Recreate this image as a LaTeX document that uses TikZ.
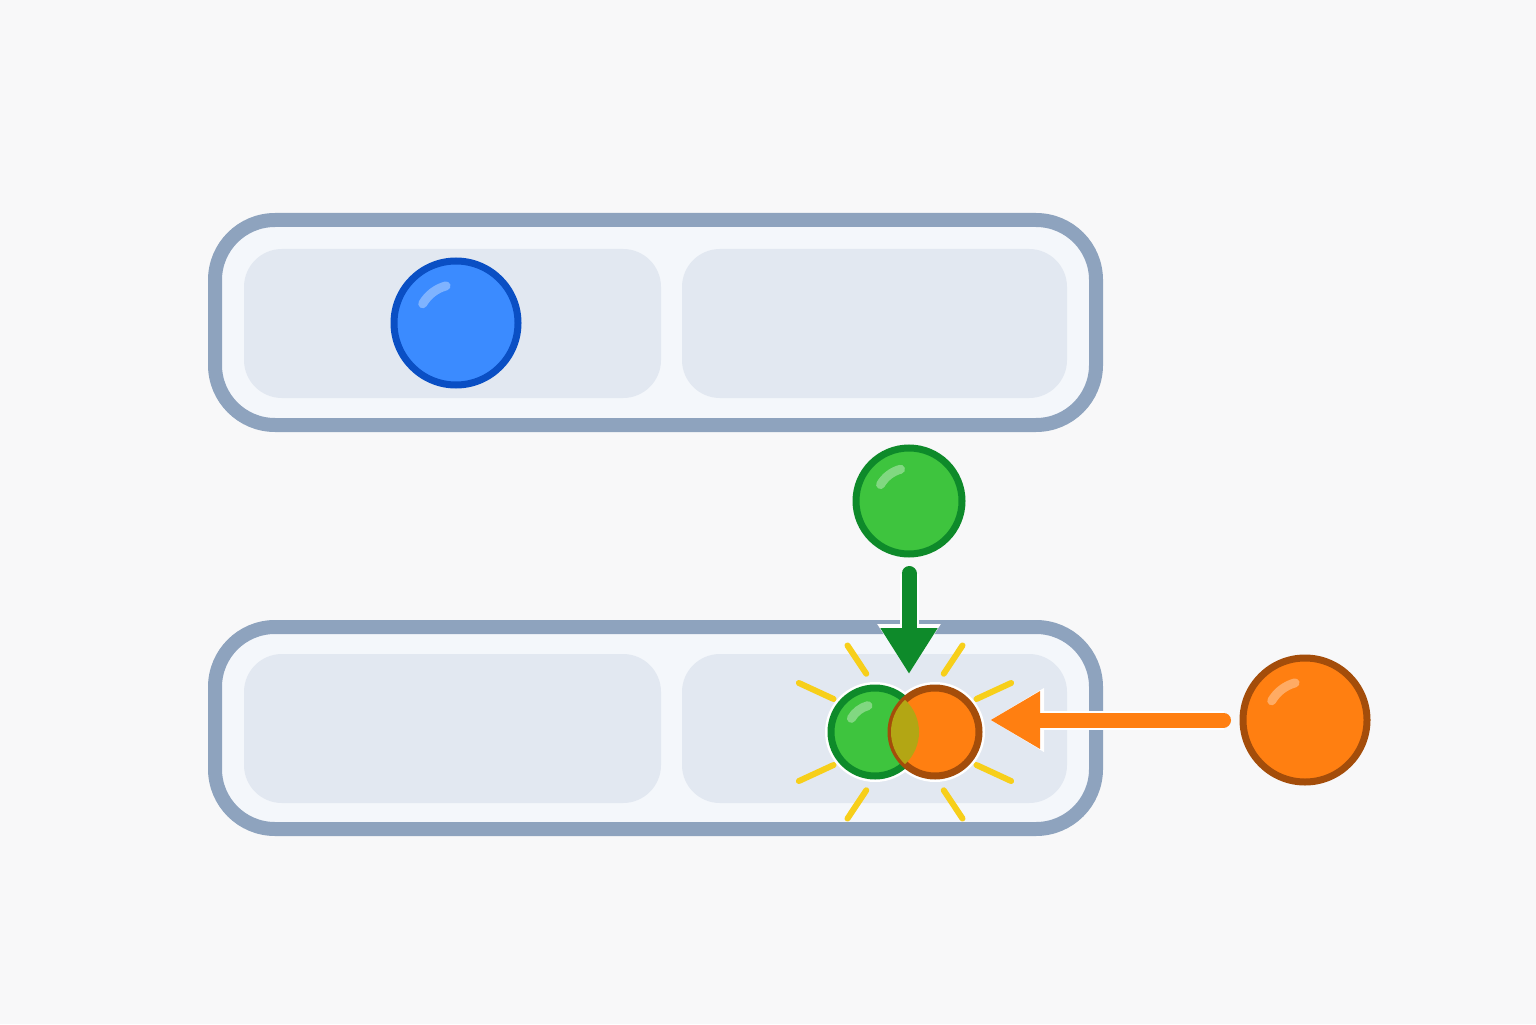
\documentclass[tikz,border=0pt]{standalone}
\usetikzlibrary{arrows.meta,positioning,calc}
\definecolor{bgc}{HTML}{F8F8F9}
\definecolor{barline}{HTML}{8EA3BE}
\definecolor{barfill}{HTML}{F4F7FB}
\definecolor{slotfill}{HTML}{E2E8F1}
\definecolor{bluefill}{HTML}{3B8BFF}
\definecolor{blueline}{HTML}{0A4FC4}
\definecolor{greenfill}{HTML}{3EC43E}
\definecolor{greenline}{HTML}{0E8A2A}
\definecolor{orangefill}{HTML}{FF7F11}
\definecolor{orangeline}{HTML}{A44D0A}
\definecolor{spark}{HTML}{F7CF1A}
\definecolor{mixfill}{HTML}{B3A614}
\tikzset{
  bar/.style={draw=barline, fill=barfill, line width=1.4mm, rounded corners=6mm},
  slot/.style={fill=slotfill, rounded corners=3.8mm},
  ball/.style={circle, line width=0.7mm, inner sep=0pt},
  shine/.style={white, opacity=0.35, line width=0.9mm, line cap=round},
  ray/.style={spark, line width=0.6mm, line cap=round}
}
\newcommand{\ballshine}[2]{% node name, radius
  \draw[shine] ($(#1.center)+(150:0.62*#2)$) arc (150:105:0.62*#2);}
\begin{document}
\begin{tikzpicture}
\fill[bgc] (0,0) rectangle (15.36,10.24);
\useasboundingbox (0,0) rectangle (15.36,10.24);

% top bar
\draw[bar] (2.15,5.99) rectangle (10.96,8.04);
\fill[slot] (2.44,6.26) rectangle (6.61,7.75);
\fill[slot] (6.82,6.26) rectangle (10.67,7.75);
\node[ball, minimum size=1.24cm, fill=bluefill, draw=blueline] (blue) at (4.56,7.01) {};
\ballshine{blue}{0.62}

% bottom bar
\draw[bar] (2.15,1.95) rectangle (10.96,3.97);
\fill[slot] (2.44,2.21) rectangle (6.61,3.70);
\fill[slot] (6.82,2.21) rectangle (10.67,3.70);

% green ball and its path
\node[ball, minimum size=1.06cm, fill=greenfill, draw=greenline] (green) at (9.09,5.23) {};
\ballshine{green}{0.53}
\coordinate (gtip) at (9.09,3.50);
\draw[white, line width=1.9mm, -{Triangle[length=5.0mm,width=6.0mm]}] ([yshift=-1.6mm]green.south) -- (gtip);
\draw[greenline, line width=1.5mm, line cap=round, -{Triangle[length=4.6mm,width=5.4mm]}] ([yshift=-1.6mm]green.south) -- (gtip);

% orange ball and its path
\node[ball, minimum size=1.24cm, fill=orangefill, draw=orangeline] (orange) at (13.05,3.04) {};
\ballshine{orange}{0.62}
\coordinate (otip) at (9.90,3.04);
\draw[white, line width=1.9mm, -{Triangle[length=5.4mm,width=6.0mm]}] ([xshift=-1.6mm]orange.west) -- (otip);
\draw[orangefill, line width=1.5mm, line cap=round, -{Triangle[length=5.0mm,width=5.4mm]}] ([xshift=-1.6mm]orange.west) -- (otip);

% collision
\coordinate (hit) at (9.05,2.92);
\foreach \a in {30,62,118,150,210,242,298,330}
  \draw[ray] ($(hit)+({1.25*cos(\a)*0.66},{sin(\a)*0.66})$) -- ($(hit)+({1.25*cos(\a)*0.98},{sin(\a)*0.98})$);
\node[ball, minimum size=1.0cm, fill=white] at (8.75,2.92) {};
\node[ball, minimum size=1.0cm, fill=white] at (9.35,2.92) {};
\node[ball, minimum size=0.88cm, fill=greenfill, draw=greenline] (hitg) at (8.75,2.92) {};
\node[ball, minimum size=0.88cm, fill=orangefill, draw=orangeline] (hito) at (9.35,2.92) {};
\begin{scope}
  \clip (hitg.center) circle (0.44);
  \fill[mixfill] (hito.center) circle (0.44);
\end{scope}
\ballshine{hitg}{0.44}
\end{tikzpicture}
\end{document}
